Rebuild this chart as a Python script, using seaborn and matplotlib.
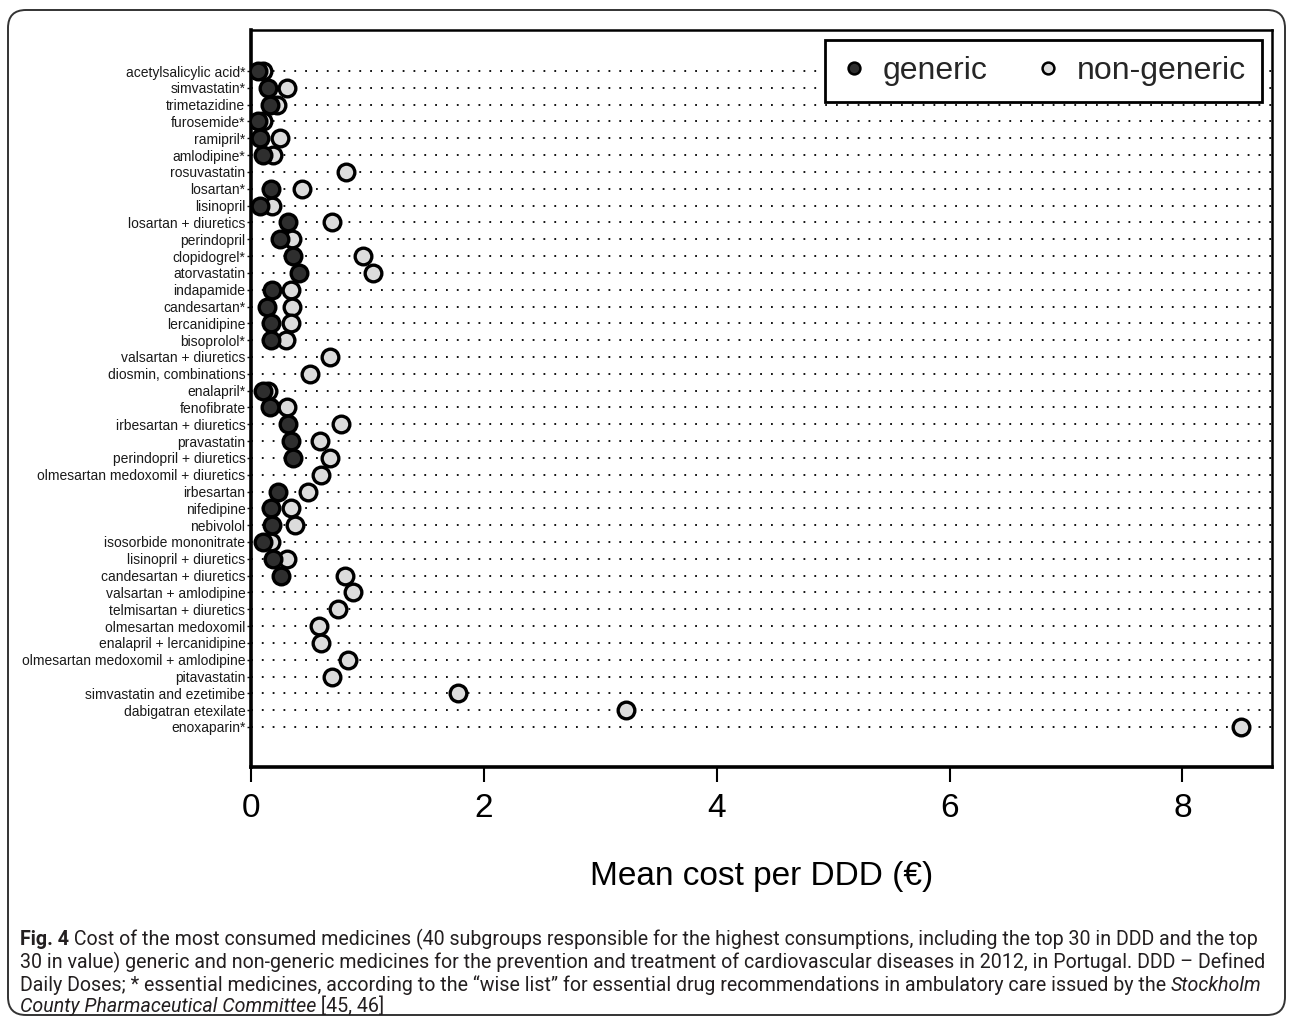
import numpy as np
import pandas as pd
import seaborn as sns
import matplotlib.pyplot as plt
from matplotlib.lines import Line2D
from matplotlib.patches import FancyBboxPatch

medicines = [
    'acetylsalicylic acid*', 'simvastatin*', 'trimetazidine', 'furosemide*',
    'ramipril*', 'amlodipine*', 'rosuvastatin', 'losartan*', 'lisinopril',
    'losartan + diuretics', 'perindopril', 'clopidogrel*', 'atorvastatin',
    'indapamide', 'candesartan*', 'lercanidipine', 'bisoprolol*',
    'valsartan + diuretics', 'diosmin, combinations', 'enalapril*',
    'fenofibrate', 'irbesartan + diuretics', 'pravastatin',
    'perindopril + diuretics', 'olmesartan medoxomil + diuretics',
    'irbesartan', 'nifedipine', 'nebivolol', 'isosorbide mononitrate',
    'lisinopril + diuretics', 'candesartan + diuretics',
    'valsartan + amlodipine', 'telmisartan + diuretics',
    'olmesartan medoxomil', 'enalapril + lercanidipine',
    'olmesartan medoxomil + amlodipine', 'pitavastatin',
    'simvastatin and ezetimibe', 'dabigatran etexilate', 'enoxaparin*',
]
nan = np.nan
generic = [0.06, 0.15, 0.16, 0.06, 0.08, 0.10, nan, 0.17, 0.08, 0.32,
           0.25, 0.36, 0.41, 0.18, 0.14, 0.17, 0.17, nan, nan, 0.10,
           0.16, 0.32, 0.34, 0.36, nan, 0.23, 0.17, 0.18, 0.10, 0.19,
           0.26, nan, nan, nan, nan, nan, nan, nan, nan, nan]
non_generic = [0.10, 0.31, 0.22, 0.10, 0.25, 0.19, 0.82, 0.44, 0.18, 0.70,
               0.35, 0.96, 1.05, 0.34, 0.35, 0.34, 0.30, 0.68, 0.51, 0.15,
               0.31, 0.77, 0.59, 0.68, 0.60, 0.49, 0.34, 0.38, 0.17, 0.31,
               0.81, 0.88, 0.75, 0.58, 0.60, 0.83, 0.70, 1.78, 3.22, 8.50]

df = pd.DataFrame({'medicine': medicines, 'generic': generic,
                   'non-generic': non_generic})
long = df.melt(id_vars='medicine', var_name='type', value_name='cost').dropna()

sns.set_theme(style='white')
plt.rcParams['font.family'] = ['Liberation Sans', 'DejaVu Sans']

W, H = 1290, 1019
fig = plt.figure(figsize=(W / 100, H / 100), dpi=100)
ax = fig.add_axes([251 / W, 1 - 767 / H, (1272 - 251) / W, (767 - 30) / H])

fills = {'non-generic': '#dcdcdc', 'generic': '#2e2e2e'}
for kind in ['non-generic', 'generic']:
    sns.stripplot(data=long[long['type'] == kind], x='cost', y='medicine',
                  order=medicines, jitter=False, color=fills[kind],
                  edgecolor='black', linewidth=2.4, size=12, ax=ax, zorder=3)

ax.set_xlim(0, 8.77)
ax.set_ylim(41.38, -2.44)
ax.set_xticks([0, 2, 4, 6, 8])
ax.grid(True, axis='y', color='black', linestyle=(0, (1, 5)), linewidth=1.3)
ax.grid(False, axis='x')

for side, lw in [('left', 2.6), ('bottom', 2.6), ('top', 1.8), ('right', 1.8)]:
    ax.spines[side].set_visible(True)
    ax.spines[side].set_color('black')
    ax.spines[side].set_linewidth(lw)

ax.tick_params(axis='x', bottom=True, length=11, width=1.5, labelsize=24,
               pad=8, colors='black')
ax.tick_params(axis='y', left=True, length=3, width=1, labelsize=10, pad=1,
               colors='#1a1a1a')
ax.set_ylabel('')
ax.set_xlabel('Mean cost per DDD (€)', fontsize=24, labelpad=26, color='black')

handles = [Line2D([], [], ls='none', marker='o', markersize=8.5,
                  markerfacecolor=fills['generic'], markeredgecolor='black',
                  markeredgewidth=1.8),
           Line2D([], [], ls='none', marker='o', markersize=8.5,
                  markerfacecolor=fills['non-generic'], markeredgecolor='black',
                  markeredgewidth=1.8)]
leg = ax.legend(handles, ['generic', 'non-generic'], ncol=2, fontsize=23,
                loc='upper right', bbox_to_anchor=(0.990, 0.986),
                borderaxespad=0, frameon=True, fancybox=False, framealpha=1,
                edgecolor='black', handlelength=0.8, handletextpad=0.5,
                columnspacing=1.5, borderpad=0.5)
leg.get_frame().set_linewidth(2)

# outer rounded figure frame
fig.patches.append(FancyBboxPatch((0.08, 0.04), 12.77, 10.05,
                                  boxstyle='round,pad=0,rounding_size=0.18',
                                  transform=fig.dpi_scale_trans, fill=False,
                                  ec='#333333', lw=1.4))

# caption
cap_font = ['Roboto', 'Liberation Sans', 'DejaVu Sans']
cap_color = '#231f20'
caption = [
    [('Fig. 4', 'bold', 'normal'),
     (' Cost of the most consumed medicines (40 subgroups responsible for the '
      'highest consumptions, including the top 30 in DDD and the top', 'normal', 'normal')],
    [('30 in value) generic and non-generic medicines for the prevention and '
      'treatment of cardiovascular diseases in 2012, in Portugal. DDD – Defined',
      'normal', 'normal')],
    [('Daily Doses; * essential medicines, according to the “wise list” for '
      'essential drug recommendations in ambulatory care issued by the ',
      'normal', 'normal'), ('Stockholm', 'normal', 'italic')],
    [('County Pharmaceutical Committee', 'normal', 'italic'),
     (' [45, 46]', 'normal', 'normal')],
]
renderer = fig.canvas.get_renderer()

# pick size so the widest line stays inside the frame
probe = fig.text(0, 0, caption[1][0][0], fontsize=12, family=cap_font)
pw = probe.get_window_extent(renderer).width
probe.remove()
cap_size = 12 * 1240 / pw

baselines = [945, 968, 991, 1012]
for segs, yb in zip(caption, baselines):
    x = 20
    for text, weight, style in segs:
        t = fig.text(x / W, 1 - yb / H, text, fontsize=cap_size,
                     family=cap_font, weight=weight, style=style,
                     color=cap_color, va='baseline', ha='left')
        x = t.get_window_extent(renderer).x1

fig.savefig('out.png', dpi=100)
